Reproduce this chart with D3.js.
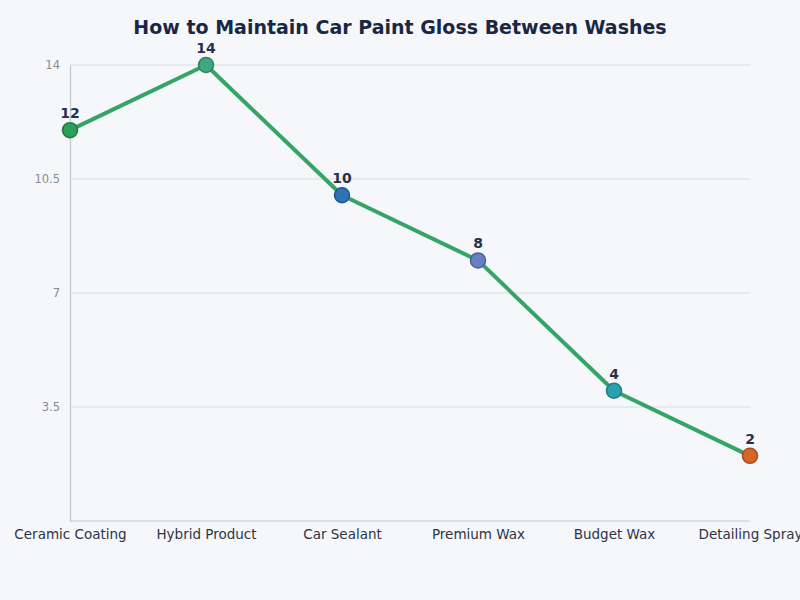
<!DOCTYPE html>
<html lang="en">
<head>
<meta charset="UTF-8" />
<title>How to Maintain Car Paint Gloss Between Washes</title>
<script src="https://cdn.jsdelivr.net/npm/d3@7"></script>
<style>
  body { margin: 0; background: #f5f7fb; font-family: "DejaVu Sans", sans-serif; }
</style>
</head>
<body>
<div id="chart"></div>
<script>
// data
const categories = ["Ceramic Coating", "Hybrid Product", "Car Sealant", "Premium Wax", "Budget Wax", "Detailing Spray"];
const weeks = [12, 14, 10, 8, 4, 2];
const pointColors = ["#2e9e5b", "#41a77f", "#2f72b8", "#6a7fbf", "#2aa0b0", "#d4662c"];
const pointStrokes = ["#1f7a43", "#2c8262", "#1f5792", "#4d5f9a", "#1b7d8b", "#a94c1b"];
const yTicks = [3.5, 7, 10.5, 14];

const width = 800, height = 600;
const margin = { top: 65, right: 50, bottom: 79, left: 70 };

const svg = d3.select("#chart")
  .append("svg")
  .attr("width", width)
  .attr("height", height);

svg.append("rect")
  .attr("width", width)
  .attr("height", height)
  .attr("fill", "#f5f7fb");

// title
svg.append("text")
  .attr("x", width / 2)
  .attr("y", 34)
  .attr("text-anchor", "middle")
  .attr("font-size", 19)
  .attr("font-weight", "bold")
  .attr("fill", "#1a2744")
  .text("How to Maintain Car Paint Gloss Between Washes");

const x = d3.scalePoint()
  .domain(categories)
  .range([margin.left, width - margin.right]);

const y = d3.scaleLinear()
  .domain([0, 14])
  .range([height - margin.bottom, margin.top]);

// gridlines
svg.append("g")
  .selectAll("line")
  .data(yTicks)
  .enter().append("line")
  .attr("x1", margin.left)
  .attr("x2", width - margin.right)
  .attr("y1", d => y(d))
  .attr("y2", d => y(d))
  .attr("stroke", "#d9dce3")
  .attr("stroke-width", 1);

// y axis
const yAxis = svg.append("g")
  .attr("transform", `translate(${margin.left},0)`)
  .call(d3.axisLeft(y).tickValues(yTicks).tickSize(0).tickPadding(10).tickFormat(d3.format("")));
yAxis.select(".domain").attr("stroke", "#c3c7cf").attr("stroke-width", 1.2);
yAxis.selectAll("text")
  .attr("fill", "#868b97")
  .attr("font-size", 11.5)
  .attr("font-family", "DejaVu Sans, sans-serif");

// x axis
const xAxis = svg.append("g")
  .attr("transform", `translate(0,${height - margin.bottom})`)
  .call(d3.axisBottom(x).tickSize(0).tickPadding(8));
xAxis.select(".domain").attr("stroke", "#c3c7cf").attr("stroke-width", 1.2)
  .attr("d", `M${margin.left},0H${width - margin.right}`);
xAxis.selectAll("text")
  .attr("fill", "#2e3444")
  .attr("font-size", 13.5)
  .attr("font-family", "DejaVu Sans, sans-serif");

// line
const line = d3.line()
  .x((d, i) => x(categories[i]))
  .y(d => y(d));

svg.append("path")
  .datum(weeks)
  .attr("fill", "none")
  .attr("stroke", "#34a565")
  .attr("stroke-width", 4)
  .attr("stroke-linejoin", "round")
  .attr("d", line);

// points
svg.append("g")
  .selectAll("circle")
  .data(weeks)
  .enter().append("circle")
  .attr("cx", (d, i) => x(categories[i]))
  .attr("cy", d => y(d))
  .attr("r", 7.5)
  .attr("fill", (d, i) => pointColors[i])
  .attr("stroke", (d, i) => pointStrokes[i])
  .attr("stroke-width", 1.5);

// value labels
svg.append("g")
  .selectAll("text")
  .data(weeks)
  .enter().append("text")
  .attr("x", (d, i) => x(categories[i]))
  .attr("y", d => y(d) - 12)
  .attr("text-anchor", "middle")
  .attr("font-size", 14)
  .attr("font-weight", "bold")
  .attr("fill", "#27304a")
  .text(d => d);
</script>
</body>
</html>
